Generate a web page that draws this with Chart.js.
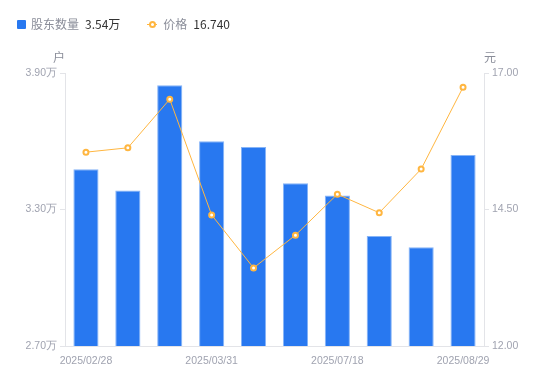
<!DOCTYPE html>
<html>
<head>
<meta charset="utf-8">
<script src="https://cdn.jsdelivr.net/npm/chart.js@4"></script>
<style>
  body { margin: 0; background: #fff; font-family: "Noto Sans CJK SC", "Noto Sans", sans-serif; }
  #wrap { position: relative; width: 550px; height: 381px; }
  #legend { position: absolute; left: 17px; top: 15px; font-size: 12px; line-height: 18px; display: flex; align-items: center; white-space: nowrap; }
  .sq { display: inline-block; width: 9px; height: 9px; background: #2878f0; border-radius: 1px; margin-right: 5px; }
  .ln { display: inline-block; position: relative; width: 10px; height: 9px; margin-right: 6px; }
  .ln:before { content: ""; position: absolute; left: 0; right: 0; top: 4px; height: 1px; background: #ffb640; }
  .ln:after { content: ""; position: absolute; left: 2px; top: 1px; width: 3px; height: 3px; border: 2px solid #ffb640; border-radius: 50%; background: #fff; }
  .nm { color: #8a8d99; margin-right: 6px; }
  .vl { color: #333; }
  #chart { position: absolute; left: 0; top: 0; }
</style>
</head>
<body>
<div id="wrap">
  <canvas id="chart" width="550" height="381"></canvas>
  <div id="legend">
    <span class="sq"></span><span class="nm">股东数量</span><span class="vl" style="margin-right:27px">3.54万</span>
    <span class="ln"></span><span class="nm">价格</span><span class="vl">16.740</span>
  </div>
</div>
<script>
// report dates (only every third one is labelled on the axis)
var dates = ["2025/02/28", "2025/03/10", "2025/03/20", "2025/03/31", "2025/04/30",
             "2025/06/30", "2025/07/18", "2025/07/31", "2025/08/20", "2025/08/29"];
// shareholders, in 万户
var holders = [3.477, 3.383, 3.846, 3.600, 3.575, 3.415, 3.361, 3.184, 3.134, 3.540];
// share price, 元
var prices = [15.55, 15.63, 16.52, 14.40, 13.43, 14.03, 14.78, 14.44, 15.24, 16.74];

var tickColor = "#a0a3b0";
var lineGray = "#e3e4e8";
var tickFont = {size: 10.5, family: "'Liberation Sans', Arial, sans-serif"};

// unit labels over both y axes
var unitLabels = {
  id: "unitLabels",
  afterDraw: function(chart) {
    var ctx = chart.ctx;
    var top = chart.chartArea.top;
    ctx.save();
    ctx.font = "12px 'Noto Sans CJK SC', sans-serif";
    ctx.fillStyle = "#8a8d99";
    ctx.textBaseline = "middle";
    ctx.textAlign = "center";
    ctx.fillText("户", chart.chartArea.left - 6, top - 16);
    ctx.fillText("元", chart.chartArea.right + 6, top - 16);
    ctx.restore();
  }
};

var cx = document.getElementById("chart");
var myChart = new Chart(cx, {
  type: "bar",
  data: {
    labels: dates,
    datasets: [{
      type: "line",
      label: "价格",
      data: prices,
      yAxisID: "y1",
      borderColor: "#ffb640",
      borderWidth: 1,
      pointRadius: 2.5,
      pointBorderWidth: 2,
      pointBackgroundColor: "#fff",
      pointBorderColor: "#ffb640",
      tension: 0,
      order: 0
    },
    {
      label: "股东数量",
      data: holders,
      yAxisID: "y",
      backgroundColor: "#2878f0",
      borderColor: "#86b4f7",
      borderWidth: 1,
      barPercentage: 0.6,
      categoryPercentage: 1,
      order: 1
    }]
  },
  options: {
    responsive: false,
    animation: false,
    layout: {padding: {top: 73, left: 0, right: 0, bottom: 0}},
    plugins: {legend: {display: false}, tooltip: {enabled: false}},
    scales: {
      x: {
        grid: {display: false},
        border: {color: lineGray},
        ticks: {
          autoSkip: false, maxRotation: 0, color: tickColor, padding: 1,
          font: tickFont,
          callback: function(v, i) { return i % 3 === 0 ? dates[i] : ""; }
        },
        afterFit: function(s) { s.height = 35; }
      },
      y: {
        position: "left",
        min: 2.7, max: 3.9,
        grid: {drawOnChartArea: false, color: lineGray, tickLength: 5},
        border: {color: lineGray},
        ticks: {
          stepSize: 0.6, color: tickColor, padding: 3,
          font: tickFont,
          callback: function(v) { return v.toFixed(2) + "万"; }
        },
        afterFit: function(s) { s.width = 65; }
      },
      y1: {
        position: "right",
        min: 12, max: 17,
        grid: {drawOnChartArea: false, color: lineGray, tickLength: 5},
        border: {color: lineGray},
        ticks: {
          stepSize: 2.5, color: tickColor, padding: 3,
          font: tickFont,
          callback: function(v) { return v.toFixed(2); }
        },
        afterFit: function(s) { s.width = 66; }
      }
    }
  },
  plugins: [unitLabels]
});
</script>
</body>
</html>
